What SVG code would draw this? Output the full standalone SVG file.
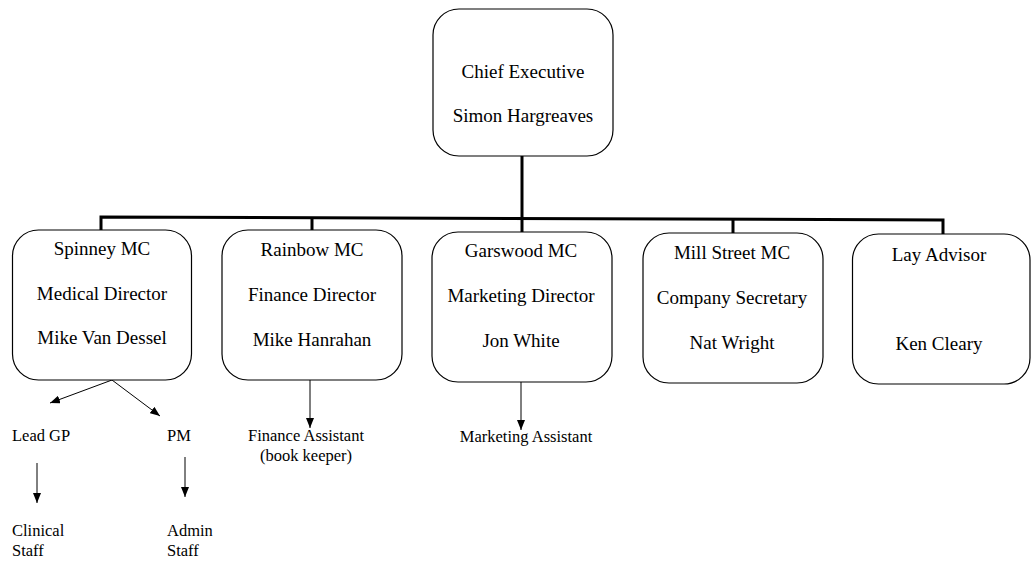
<svg xmlns="http://www.w3.org/2000/svg" width="1031" height="563" viewBox="0 0 1031 563">
<style>
  .box { fill: #ffffff; stroke: #000000; stroke-width: 1.2; }
  .t { font-family: "Liberation Serif", "Times New Roman", serif; font-size: 19px; fill: #000; text-anchor: middle; }
  .s { font-family: "Liberation Serif", "Times New Roman", serif; font-size: 16.5px; fill: #000; }
  .bar { stroke: #000; stroke-width: 3; fill: none; }
  .arr { stroke: #000; stroke-width: 1; fill: none; marker-end: url(#ah); }
</style>
<defs>
  <marker id="ah" viewBox="0 0 10 8" refX="10" refY="4" markerWidth="10" markerHeight="8" markerUnits="userSpaceOnUse" orient="auto">
    <path d="M0,0 L10,4 L0,8 Z" fill="#000"/>
  </marker>
</defs>
<rect width="1031" height="563" fill="#ffffff"/>
<g id="connectors">
  <line class="bar" x1="522" y1="155" x2="522" y2="218"/>
  <polyline class="bar" points="101,231 101,217 943,220 943,234"/>
  <line class="bar" x1="312" y1="217.5" x2="312" y2="231"/>
  <line class="bar" x1="522" y1="218" x2="522" y2="232"/>
  <line class="bar" x1="733" y1="219" x2="733" y2="233"/>
  <line class="arr" x1="112" y1="380" x2="50" y2="403"/>
  <line class="arr" x1="112" y1="380" x2="160" y2="416"/>
  <line class="arr" x1="37" y1="463" x2="37" y2="503"/>
  <line class="arr" x1="185" y1="457" x2="185" y2="497"/>
  <line class="arr" x1="310" y1="380" x2="310" y2="428"/>
  <line class="arr" x1="521" y1="382" x2="521" y2="430"/>
</g>
<g id="chief">
  <rect class="box" x="433" y="9" width="180" height="147" rx="26"/>
  <text class="t" x="523" y="78">Chief Executive</text>
  <text class="t" x="523" y="122">Simon Hargreaves</text>
</g>
<g id="spinney">
  <rect class="box" x="12.5" y="230" width="179" height="150" rx="26"/>
  <text class="t" x="102" y="255">Spinney MC</text>
  <text class="t" x="102" y="300">Medical Director</text>
  <text class="t" x="102" y="344">Mike Van Dessel</text>
</g>
<g id="rainbow">
  <rect class="box" x="222" y="230" width="180" height="150" rx="26"/>
  <text class="t" x="312" y="256">Rainbow MC</text>
  <text class="t" x="312" y="301">Finance Director</text>
  <text class="t" x="312" y="346">Mike Hanrahan</text>
</g>
<g id="garswood">
  <rect class="box" x="432" y="232" width="180" height="150" rx="26"/>
  <text class="t" x="521" y="257">Garswood MC</text>
  <text class="t" x="521" y="302">Marketing Director</text>
  <text class="t" x="521" y="347">Jon White</text>
</g>
<g id="millstreet">
  <rect class="box" x="643" y="233" width="180" height="150" rx="26"/>
  <text class="t" x="732" y="259">Mill Street MC</text>
  <text class="t" x="732" y="304">Company Secretary</text>
  <text class="t" x="732" y="349">Nat Wright</text>
</g>
<g id="layadvisor">
  <rect class="box" x="852.5" y="234" width="177.5" height="150" rx="26"/>
  <text class="t" x="939" y="261">Lay Advisor</text>
  <text class="t" x="939" y="350">Ken Cleary</text>
</g>
<g id="leadgp"><text class="s" x="12" y="441">Lead GP</text></g>
<g id="pm"><text class="s" x="167" y="441">PM</text></g>
<g id="clinical"><text class="s" x="12" y="536">Clinical</text><text class="s" x="12" y="556">Staff</text></g>
<g id="admin"><text class="s" x="167" y="536">Admin</text><text class="s" x="167" y="556">Staff</text></g>
<g id="finassist">
  <text class="s" x="306" y="441" text-anchor="middle">Finance Assistant</text>
  <text class="s" x="306" y="461" text-anchor="middle">(book keeper)</text>
</g>
<g id="mktassist"><text class="s" x="526" y="442" text-anchor="middle">Marketing Assistant</text></g>
</svg>
